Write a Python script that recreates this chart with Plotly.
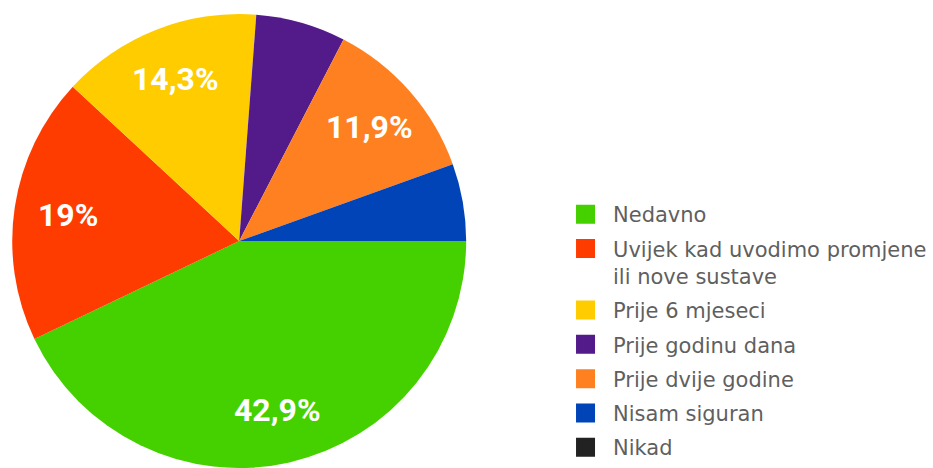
import math
import plotly.graph_objects as go

# Survey answers and their shares (percent)
labels = [
    "Nedavno",
    "Uvijek kad uvodimo promjene<br>ili nove sustave",
    "Prije 6 mjeseci",
    "Prije godinu dana",
    "Prije dvije godine",
    "Nisam siguran",
    "Nikad",
]
shares = [42.9, 19.0, 14.3, 6.4, 11.9, 5.5, 0.0]
colors = ["#45D000", "#FF3C00", "#FFCC00", "#531A8A", "#FF8020", "#0044B8", "#222222"]

W, H = 933, 468
pie_x = [0.01308, 0.49968]
pie_y = [0.0, 0.97]
start_deg = 90          # first slice starts at 3 o'clock, runs clockwise
label_radius = 0.765    # percentage labels sit at this fraction of the radius


def fmt_pct(v):
    return f"{v:g}".replace(".", ",") + "%"


fig = go.Figure()

fig.add_trace(
    go.Pie(
        labels=labels,
        values=shares,
        textinfo="none",
        hoverinfo="label+percent",
        sort=False,
        direction="clockwise",
        rotation=start_deg,
        marker=dict(colors=colors, line=dict(width=0)),
        domain=dict(x=pie_x, y=pie_y),
        showlegend=False,
    )
)

# Legend entries (square swatches) for every answer, including empty ones
for i, (name, col) in enumerate(zip(labels, colors)):
    fig.add_trace(
        go.Scatter(
            x=[None],
            y=[None],
            mode="markers",
            name=name,
            legendgroup=f"g{i}",
            marker=dict(symbol="square", size=16, color=col, line=dict(color=col, width=3)),
            showlegend=True,
            hoverinfo="skip",
        )
    )

# Percentage labels on the larger slices, placed along each slice's mid-angle
cx = (pie_x[0] + pie_x[1]) / 2 * W
cy = (pie_y[0] + pie_y[1]) / 2 * H
radius = min((pie_x[1] - pie_x[0]) * W, (pie_y[1] - pie_y[0]) * H) / 2
total = sum(shares)
acc = 0.0
annotations = []
for v in shares:
    mid = start_deg + (acc + v / 2) / total * 360.0
    acc += v
    if v < 10:
        continue
    a = math.radians(mid)
    px = cx + label_radius * radius * math.sin(a)
    py = cy + label_radius * radius * math.cos(a)
    annotations.append(
        dict(
            x=px / W,
            y=py / H,
            xref="paper",
            yref="paper",
            text=fmt_pct(v),
            showarrow=False,
            xanchor="center",
            yanchor="middle",
            font=dict(family="Roboto", size=32, color="white", weight=700),
        )
    )

fig.update_layout(
    width=W,
    height=H,
    margin=dict(l=0, r=0, t=0, b=0, autoexpand=False),
    paper_bgcolor="white",
    plot_bgcolor="white",
    xaxis=dict(visible=False),
    yaxis=dict(visible=False),
    showlegend=True,
    annotations=annotations,
    legend=dict(
        x=0.5981,
        xanchor="left",
        y=0.5855,
        yanchor="top",
        valign="top",
        itemwidth=45,
        tracegroupgap=4,
        font=dict(family="DejaVu Sans", size=21, color="#5f5f5f"),
        bgcolor="rgba(0,0,0,0)",
    ),
)

fig.write_html("out.html")
